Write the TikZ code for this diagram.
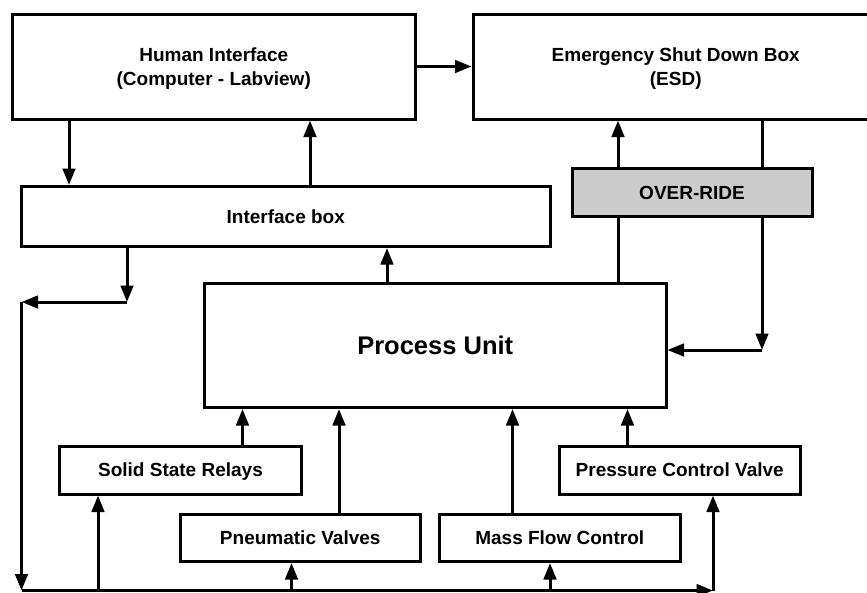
\documentclass[tikz,border=0pt]{standalone}
\usepackage{fontspec}
\setmainfont{Liberation Sans}
\usetikzlibrary{arrows.meta}
\begin{document}
\begin{tikzpicture}[x=1pt,y=-1pt,
  box/.style={draw, line width=3pt, inner sep=0pt,
    font=\fontsize{19}{23.5}\selectfont\bfseries,
    text height=13.6pt, text depth=0pt},
  twoline/.style={box, align=center, text height=37.1pt, text depth=0pt},
  arr/.style={line width=3pt, -{Triangle[length=16.5pt,width=12.5pt]}},
  wire/.style={line width=3pt}]
\useasboundingbox (0,0) rectangle (867,592);
\clip (0,0) rectangle (867,592);

% blocks
\node[twoline, minimum width=403.5pt, minimum height=105pt] (hi) at (213.75,66.5)
  {Human Interface\\(Computer - Labview)};
\node[twoline, minimum width=405.5pt, minimum height=105pt] (esd) at (675.75,66.5)
  {Emergency Shut Down Box\\(ESD)};
\node[box, minimum width=528.5pt, minimum height=60pt] (ib) at (285.75,216.5) {Interface box};
\node[box, fill=gray!40, minimum width=240pt, minimum height=48.5pt] (ov) at (692,192.25) {OVER-RIDE};
\node[box, minimum width=461.5pt, minimum height=124.5pt,
  font=\fontsize{25.5}{30}\selectfont\bfseries, text height=18.3pt] (pu) at (435.25,345.25) {Process Unit};
\node[box, minimum width=242pt, minimum height=48pt] (ssr) at (180.5,470) {Solid State Relays};
\node[box, minimum width=240.5pt, minimum height=47.5pt] (pv) at (300.25,537.75) {Pneumatic Valves};
\node[box, minimum width=240.5pt, minimum height=47.5pt] (mfc) at (559.75,537.75) {Mass Flow Control};
\node[box, minimum width=240.5pt, minimum height=48pt] (pcv) at (679.75,470) {Pressure Control Valve};

% routing points
\coordinate (j1) at (127,302);
\coordinate (j2) at (21.5,302);
\coordinate (j3) at (21.5,590.5);
\coordinate (j4) at (713,590.5);
\coordinate (j5) at (762,350);
\coordinate (xa) at (69,0);
\coordinate (xb) at (310,0);
\coordinate (xc) at (387,0);
\coordinate (xd) at (98,0);
\coordinate (xe) at (291.5,0);
\coordinate (xf) at (550,0);
\coordinate (xg) at (242.5,0);
\coordinate (xh) at (339,0);
\coordinate (xi) at (512.5,0);
\coordinate (xj) at (627.5,0);
\coordinate (xk) at (618,0);

% human interface, ESD and interface box
\draw[arr] (hi.east) -- (esd.west);
\draw[arr] (hi.south -| xa) -- (ib.north -| xa);
\draw[arr] (ib.north -| xb) -- (hi.south -| xb);
\draw[arr] (pu.north -| xc) -- (ib.south -| xc);

% output bus from the interface box
\draw[arr] (ib.south -| j1) -- (j1);
\draw[arr] (j1) -- (j2);
\draw[arr] (j2) -- (j3);
\draw[arr] (j3) -- (j4);
\draw[arr] (j3 -| xd) -- (ssr.south -| xd);
\draw[arr] (j3 -| xe) -- (pv.south -| xe);
\draw[arr] (j3 -| xf) -- (mfc.south -| xf);
\draw[arr] (j4) -- (pcv.south -| j4);

% actuators into the process unit
\draw[arr] (ssr.north -| xg) -- (pu.south -| xg);
\draw[arr] (pv.north -| xh) -- (pu.south -| xh);
\draw[arr] (mfc.north -| xi) -- (pu.south -| xi);
\draw[arr] (pcv.north -| xj) -- (pu.south -| xj);

% shut-down loop through the over-ride
\draw[wire] (pu.north -| xk) -- (ov.south -| xk);
\draw[arr] (ov.north -| xk) -- (esd.south -| xk);
\draw[wire] (esd.south -| j5) -- (ov.north -| j5);
\draw[arr] (ov.south -| j5) -- (j5);
\draw[arr] (j5) -- (pu.east |- j5);
\end{tikzpicture}
\end{document}
